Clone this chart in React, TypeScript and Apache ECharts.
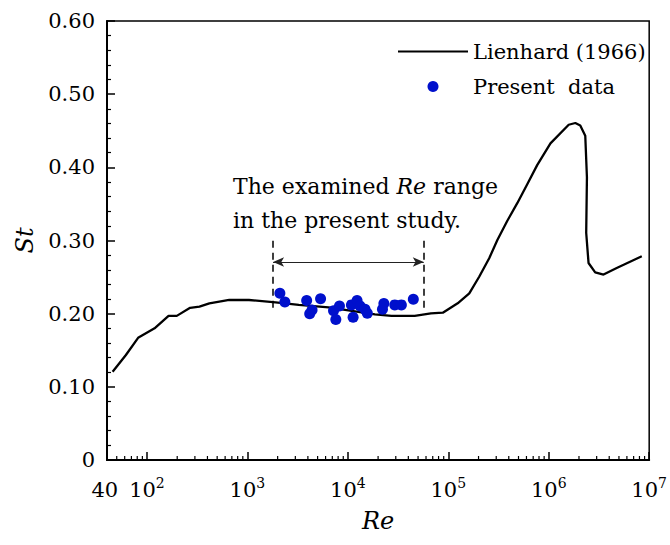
import React, { useEffect, useRef } from 'react';
import * as echarts from 'echarts';

// Lienhard (1966) curve
const reLienhard = [45.5, 61.7, 81.6, 119, 164, 198, 269, 333, 418, 659, 1038, 1906, 3245, 6430, 18600, 27200, 46300, 67100, 88200, 124000, 161800, 203000, 255400, 308000, 387000, 486000, 611000, 767000, 1040000, 1580000, 1840000, 2060000, 2310000, 2400000, 2360000, 2490000, 2900000, 3510000, 4750000, 8440000];
const stLienhard = [0.1207, 0.1435, 0.167, 0.18, 0.197, 0.197, 0.208, 0.2095, 0.214, 0.2187, 0.2187, 0.2155, 0.212, 0.2087, 0.199, 0.197, 0.197, 0.2005, 0.2013, 0.2142, 0.2278, 0.2505, 0.2757, 0.3007, 0.327, 0.351, 0.377, 0.403, 0.4328, 0.4582, 0.4606, 0.4573, 0.4432, 0.3864, 0.3106, 0.2693, 0.2565, 0.2535, 0.2624, 0.2784];

// Present data
const rePresent = [2105, 2360, 3890, 5350, 4170, 4400, 7200, 8250, 7590, 10850, 12350, 13220, 11280, 14820, 15620, 22840, 22110, 29330, 34100, 44850];
const stPresent = [0.228, 0.216, 0.218, 0.2205, 0.2, 0.205, 0.204, 0.2105, 0.192, 0.212, 0.218, 0.2105, 0.195, 0.206, 0.2005, 0.214, 0.206, 0.212, 0.212, 0.2196];

// Examined range annotation
const rangeRe = [1800, 57000];
const rangeSt = [0.208, 0.306];
const arrowSt = 0.2706;

// Axis ranges and ticks
const xMin = 40;
const xMax = 1e7;
const yMin = 0;
const yMax = 0.6;
const yInterval = 0.1;
const minorDecades = [10, 100, 1000, 10000, 100000, 1000000];
const minorMultipliers = [2, 3, 4, 5, 6, 7, 8, 9];

const FONT = 'DejaVu Serif';

export default function App() {
  const ref = useRef<HTMLDivElement>(null);
  useEffect(() => {
    if (!ref.current) return;
    const chart = echarts.init(ref.current, null, { renderer: 'svg' });
    const minorTicks: number[][] = [];
    minorDecades.forEach((d) =>
      minorMultipliers.forEach((m) => {
        const v = d * m;
        if (v > xMin && v < xMax) minorTicks.push([v, 0]);
      })
    );
    const option: any = {
      animation: false,
      textStyle: { fontFamily: FONT },
      grid: {
        left: 107,
        right: 17,
        top: 21,
        bottom: 85,
        show: true,
        borderColor: '#000',
        borderWidth: 1.5,
        backgroundColor: 'transparent',
      },
      legend: {
        orient: 'vertical',
        left: 393,
        top: 36,
        itemWidth: 70,
        itemHeight: 11,
        itemGap: 14,
        textStyle: { fontFamily: FONT, fontSize: 21, color: '#000' },
        data: [
          { name: 'Lienhard (1966)', icon: 'path://M0,0 L70,0 L70,2.2 L0,2.2 Z', itemStyle: { color: '#000' } },
          { name: 'Present  data', icon: 'circle' },
        ],
      },
      xAxis: {
        type: 'log',
        logBase: 10,
        min: xMin,
        max: xMax,
        name: 'Re',
        nameLocation: 'middle',
        nameGap: 49,
        nameTextStyle: { fontFamily: FONT, fontSize: 24, fontStyle: 'italic', color: '#000' },
        axisLine: { show: true, lineStyle: { color: '#000', width: 2 } },
        axisTick: { show: true, inside: true, length: 8, lineStyle: { color: '#000', width: 1.5 } },
        minorTick: { show: false },
        splitLine: { show: false },
        axisLabel: {
          margin: 16,
          showMinLabel: true,
          showMaxLabel: true,
          color: '#000',
          formatter: (v: number) => {
            if (Math.abs(v - 40) < 1) return '{b|40}{s| }';
            const e = Math.round(Math.log10(v));
            return '{b|10}{s|' + e + '}';
          },
          rich: {
            b: { fontFamily: FONT, fontSize: 21, color: '#000' },
            s: { fontFamily: FONT, fontSize: 14, color: '#000', padding: [0, 0, 13, 0] },
          },
        },
      },
      yAxis: {
        type: 'value',
        min: yMin,
        max: yMax,
        interval: yInterval,
        name: 'St',
        nameLocation: 'middle',
        nameGap: 70,
        nameRotate: 90,
        nameTextStyle: { fontFamily: FONT, fontSize: 24, fontStyle: 'italic', color: '#000' },
        axisLine: { show: true, lineStyle: { color: '#000', width: 2 } },
        axisTick: { show: true, inside: true, length: 8, lineStyle: { color: '#000', width: 1.5 } },
        minorTick: { show: true, splitNumber: 5, length: 4, lineStyle: { color: '#000', width: 1.2 } },
        splitLine: { show: false },
        axisLabel: {
          margin: 12,
          fontFamily: FONT,
          fontSize: 21,
          color: '#000',
          formatter: (v: number) => (v === 0 ? '0' : v.toFixed(2)),
        },
      },
      series: [
        {
          name: 'Lienhard (1966)',
          type: 'line',
          data: reLienhard.map((r, i) => [r, stLienhard[i]]),
          showSymbol: false,
          symbol: 'none',
          smooth: false,
          lineStyle: { color: '#000', width: 2.3 },
          itemStyle: { color: '#000' },
          z: 3,
          markLine: {
            silent: true,
            symbol: 'none',
            label: { show: false },
            lineStyle: { color: '#000', width: 1.5, type: [7, 5] },
            data: [
              [
                { coord: [rangeRe[0], rangeSt[0]] },
                { coord: [rangeRe[0], rangeSt[1]] },
              ],
              [
                { coord: [rangeRe[1], rangeSt[0]] },
                { coord: [rangeRe[1], rangeSt[1]] },
              ],
              [
                { coord: [rangeRe[0], arrowSt], symbol: 'arrow', symbolSize: [7, 11], lineStyle: { type: 'solid', width: 1, color: '#222' } },
                { coord: [rangeRe[1], arrowSt], symbol: 'arrow', symbolSize: [7, 11] },
              ],
            ],
          },
        },
        {
          name: 'Present  data',
          type: 'scatter',
          data: rePresent.map((r, i) => [r, stPresent[i]]),
          symbol: 'circle',
          symbolSize: 11,
          itemStyle: { color: '#0010cc', opacity: 1 },
          z: 4,
        },
        {
          name: 'minorTicks',
          type: 'custom',
          silent: true,
          data: minorTicks,
          encode: { x: 0, y: 1 },
          renderItem: (params: any, api: any) => {
            const p = api.coord([api.value(0), api.value(1)]);
            return {
              type: 'line',
              shape: { x1: p[0], y1: p[1], x2: p[0], y2: p[1] - 4 },
              style: { stroke: '#000', lineWidth: 1.2 },
            };
          },
          z: 2,
        },
      ],
      graphic: [
        {
          type: 'text',
          x: 233,
          y: 186,
          style: {
            text: '{n|The examined }{i|Re}{n| range}',
            verticalAlign: 'middle',
            align: 'left',
            fill: '#000',
            rich: {
              n: { fontFamily: FONT, fontSize: 22, fill: '#000' },
              i: { fontFamily: FONT, fontSize: 22, fontStyle: 'italic', fill: '#000' },
            },
          },
        },
        {
          type: 'text',
          x: 233,
          y: 220,
          style: {
            text: 'in the present study.',
            verticalAlign: 'middle',
            align: 'left',
            fill: '#000',
            fontFamily: FONT,
            fontSize: 22,
          },
        },
      ],
    };
    chart.setOption(option);
    return () => chart.dispose();
  }, []);
  return (
    <div
      ref={ref}
      style={{ position: 'absolute', left: 0, top: 0, width: 670, height: 545, background: '#fff' }}
    />
  );
}
